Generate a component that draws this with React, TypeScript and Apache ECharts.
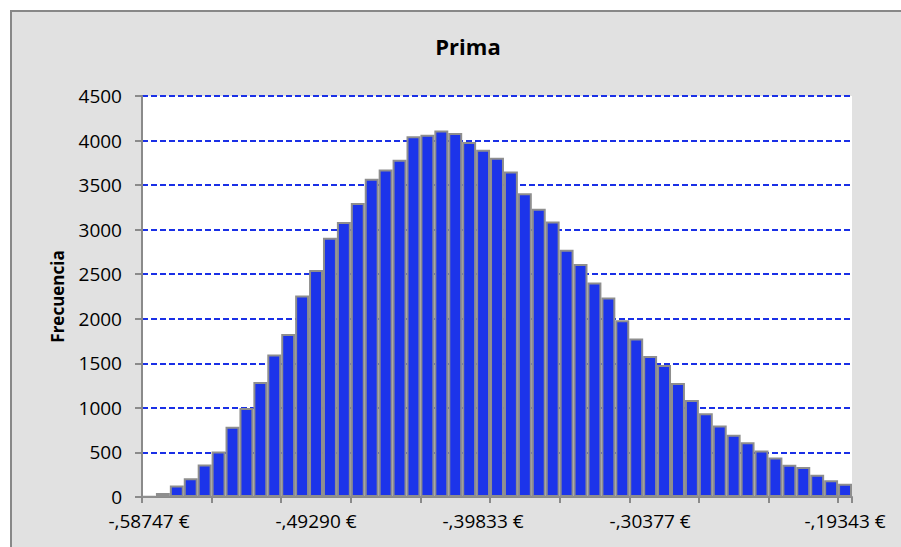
import React, { useEffect, useRef } from "react";
import * as echarts from "echarts";

const titleText = "Prima";
const yAxisName = "Frecuencia";

// Bin lower values (category labels)
const binValues: string[] = [
  "-,58747 €", "-,57959 €", "-,57171 €", "-,56383 €", "-,55595 €", "-,54807 €", "-,54019 €", "-,53231 €", "-,52442 €", "-,51654 €",
  "-,50866 €", "-,50078 €", "-,49290 €", "-,48502 €", "-,47714 €", "-,46926 €", "-,46138 €", "-,45350 €", "-,44562 €", "-,43774 €",
  "-,42985 €", "-,42197 €", "-,41409 €", "-,40621 €", "-,39833 €", "-,39045 €", "-,38257 €", "-,37469 €", "-,36681 €", "-,35893 €",
  "-,35105 €", "-,34317 €", "-,33528 €", "-,32740 €", "-,31952 €", "-,31164 €", "-,30377 €", "-,29588 €", "-,28800 €", "-,28012 €",
  "-,27224 €", "-,26436 €", "-,25648 €", "-,24860 €", "-,24071 €", "-,23283 €", "-,22495 €", "-,21707 €", "-,20919 €", "-,20131 €",
  "-,19343 €",
];

// Frequencies per bin
const frequencies: number[] = [
  8, 45, 130, 210, 365, 510, 787, 1000, 1290, 1600,
  1828, 2260, 2548, 2910, 3085, 3300, 3570, 3674, 3786, 4047,
  4066, 4114, 4084, 3984, 3898, 3808, 3652, 3409, 3234, 3092,
  2775, 2615, 2406, 2238, 1984, 1779, 1582, 1481, 1279, 1089,
  940, 802, 698, 615, 522, 444, 362, 336, 250, 187,
  149,
];

// Indices of bins whose labels are shown
const shownLabelIdx: number[] = [0, 12, 24, 36, 50];
const tickEvery = 5;

const yMin = 0;
const yMax = 4500;
const yStep = 500;

export default function App() {
  const ref = useRef<HTMLDivElement>(null);

  useEffect(() => {
    if (!ref.current) return;
    const chart = echarts.init(ref.current, undefined, { renderer: "svg" });
    const font = "'Open Sans', 'Noto Sans', sans-serif";
    chart.setOption({
      animation: false,
      title: {
        text: titleText,
        left: 463,
        top: 30,
        textAlign: "center",
        textStyle: { fontFamily: font, fontSize: 22, fontWeight: "bold", color: "#000" },
      },
      grid: {
        left: 142,
        right: 49,
        top: 96,
        bottom: 50,
        show: true,
        backgroundColor: "#ffffff",
        borderWidth: 0,
      },
      xAxis: {
        type: "category",
        data: binValues,
        boundaryGap: true,
        axisLine: { show: true, lineStyle: { color: "#8a8a8a", width: 2 } },
        axisTick: {
          show: true,
          length: 6,
          lineStyle: { color: "#8a8a8a", width: 2 },
          interval: (i: number) => i % tickEvery === 0,
        },
        axisLabel: {
          interval: (i: number) => shownLabelIdx.includes(i),
          fontFamily: font,
          fontSize: 19,
          color: "#000",
          margin: 14,
          hideOverlap: false,
        },
        splitLine: { show: false },
      },
      yAxis: {
        type: "value",
        min: yMin,
        max: yMax,
        interval: yStep,
        name: yAxisName,
        nameLocation: "middle",
        nameGap: 76,
        nameTextStyle: { fontFamily: font, fontSize: 17, fontWeight: "bold", color: "#000" },
        axisLine: { show: true, lineStyle: { color: "#8a8a8a", width: 2 } },
        axisTick: { show: true, length: 7, lineStyle: { color: "#8a8a8a", width: 2 } },
        axisLabel: {
          fontFamily: font,
          fontSize: 19,
          color: "#000",
          margin: 20,
          formatter: (v: number) => String(v),
        },
        splitLine: { show: true, lineStyle: { color: "#1a30e6", width: 1.8, type: [6, 3] } },
      },
      series: [
        {
          type: "bar",
          data: frequencies,
          barCategoryGap: "0%",
          itemStyle: { color: "#1c34ea", borderColor: "#8e8e8e", borderWidth: 2 },
        },
      ],
    });
    return () => chart.dispose();
  }, []);

  return (
    <div style={{ position: "fixed", left: 0, top: 0, width: 901, height: 547, background: "#ffffff" }}>
      <div
        style={{
          position: "absolute",
          left: 10,
          top: 10,
          right: 0,
          bottom: 0,
          background: "#e1e1e1",
          borderLeft: "2px solid #888888",
          borderTop: "2px solid #888888",
        }}
      />
      <div ref={ref} style={{ position: "absolute", left: 0, top: 0, width: 901, height: 547 }} />
    </div>
  );
}
